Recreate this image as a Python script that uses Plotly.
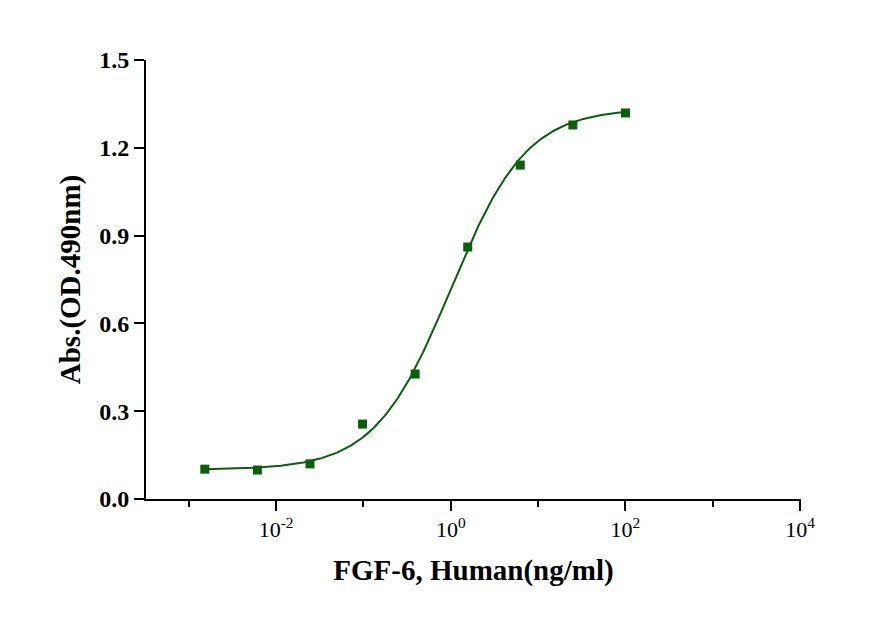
import numpy as np
import plotly.graph_objects as go

conc = [100 / 4 ** k for k in range(8, -1, -1)]
absorb = [0.102, 0.099, 0.120, 0.256, 0.427, 0.861, 1.141, 1.278, 1.319]

# 4PL fit parameters (bottom, top, EC50, hill)
bottom, top, ec50, hill = 0.10, 1.335, 1.0, 1.0
xfit = np.logspace(np.log10(conc[0]), np.log10(conc[-1]), 300)
yfit = bottom + (top - bottom) / (1 + (ec50 / xfit) ** hill)

green = "#0b5e0b"
font = dict(family="Liberation Serif", size=24, color="black")

fig = go.Figure()
fig.add_trace(go.Scatter(x=xfit, y=yfit, mode="lines", line=dict(color=green, width=2), showlegend=False))
fig.add_trace(go.Scatter(x=conc, y=absorb, mode="markers",
                         marker=dict(symbol="square", size=9, color=green), showlegend=False))

fig.update_layout(
    width=892, height=636, plot_bgcolor="white", paper_bgcolor="white",
    margin=dict(l=138, r=99, t=52, b=145), font=font,
    xaxis=dict(type="log", range=[-3.49, 4.01], showgrid=False, zeroline=False,
               showline=True, linecolor="black", linewidth=2,
               tickvals=[1e-2, 1, 1e2, 1e4],
               ticktext=["10<sup>-2</sup>", "10<sup>0</sup>", "10<sup>2</sup>", "10<sup>4</sup>"],
               ticks="outside", ticklen=10, tickwidth=2, tickcolor="black",
               tickfont=dict(family="Liberation Serif", size=22),
               minor=dict(tickvals=[1e-3, 1e-1, 10, 1e3], ticks="outside", ticklen=6,
                          tickwidth=2, tickcolor="black"),
               title=dict(text="<b>FGF-6, Human(ng/ml)</b>", standoff=18)),
    yaxis=dict(range=[0, 1.5], tickvals=[0, 0.3, 0.6, 0.9, 1.2, 1.5],
               ticktext=["<b>0.0</b>", "<b>0.3</b>", "<b>0.6</b>", "<b>0.9</b>", "<b>1.2</b>", "<b>1.5</b>"],
               showgrid=False, zeroline=False, showline=True, linecolor="black", linewidth=2,
               ticks="outside", ticklen=10, tickwidth=2, tickcolor="black",
               tickfont=dict(family="Liberation Serif", size=24),
               title=dict(text="<b>Abs.(OD.490nm)</b>", standoff=10)),
)

fig.write_html("out.html")
